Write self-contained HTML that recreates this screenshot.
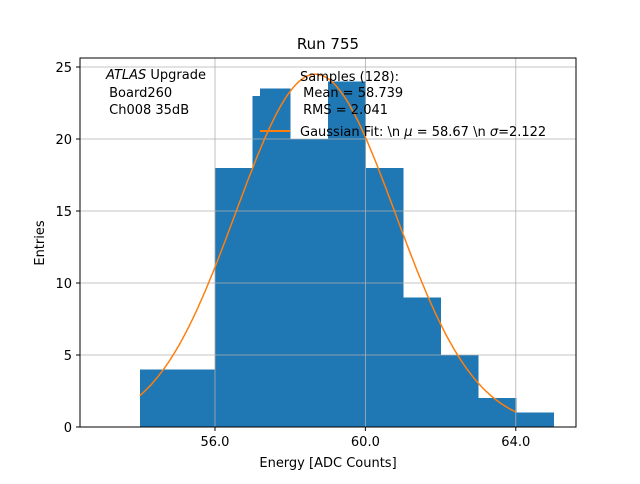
<!DOCTYPE html>
<html><head><meta charset="utf-8"><style>
body{margin:0;background:#fff;font-family:"DejaVu Sans","Liberation Sans",sans-serif;}
</style></head><body>
<svg id="c" width="640" height="480" xmlns="http://www.w3.org/2000/svg" font-family="DejaVu Sans, Liberation Sans, sans-serif">
<rect width="640" height="480" fill="#fff"/>
<g id="bars" shape-rendering="crispEdges"></g>
<g id="grid"></g>
<g id="fit"></g>
<rect x="80" y="58" width="496" height="369" fill="none" stroke="#000" stroke-width="1"/>
<g id="ticks" font-size="13"></g>
<text x="328" y="49" text-anchor="middle" font-size="15">Run 755</text>
<text x="328" y="467" text-anchor="middle" font-size="13">Energy [ADC Counts]</text>
<text transform="translate(44,243) rotate(-90)" text-anchor="middle" font-size="13">Entries</text>
<g font-size="13">
<text x="106" y="79"><tspan font-style="italic">ATLAS</tspan> Upgrade</text>
<text x="105" y="97" xml:space="preserve"> Board260</text>
<text x="105" y="114" xml:space="preserve"> Ch008 35dB</text>
</g>
<g font-size="13">
<text x="300" y="81">Samples (128):</text>
<text x="299" y="97" xml:space="preserve"> Mean = 58.739</text>
<text x="299" y="114" xml:space="preserve"> RMS = 2.041</text>
<line x1="260" y1="131" x2="290" y2="131" stroke="#ff7f0e" stroke-width="2"/>
<text x="300" y="136">Gaussian Fit: \n <tspan font-style="italic">μ</tspan> = 58.67 \n <tspan font-style="italic">σ</tspan>=2.122</text>
</g>
</svg>
<script>
const binLo=[54,56,57,57.2,58,59,60,61,62,63,64];
const binHi=[56,57,58,58,59,60,61,62,63,64,65];
const counts=[4,18,23,23.5,20,24,18,9,5,2,1];
const xTicks=[56,60,64];
const xTickLabels=["56.0","60.0","64.0"];
const yTicks=[0,5,10,15,20,25];
const fitMu=58.67, fitSigma=2.122, fitAmp=24.5, fitMin=54, fitMax=64;
const NS="http://www.w3.org/2000/svg";
const X=v=>80+(v-52.41)*37.6;
const Y=v=>427-v*14.4;
function mk(tag,attrs,parent){const e=document.createElementNS(NS,tag);for(const k in attrs)e.setAttribute(k,attrs[k]);document.getElementById(parent).appendChild(e);return e;}
xTicks.forEach((t,i)=>{
 const g=mk('line',{x1:X(t),x2:X(t),y1:58,y2:427,stroke:'#b0b0b0','stroke-width':0.8},'grid');
 
 
 mk('line',{x1:X(t),x2:X(t),y1:427,y2:431,stroke:'#000'},'ticks');
 const tx=mk('text',{x:X(t),y:446,'text-anchor':'middle'},'ticks');tx.textContent=xTickLabels[i];
 
 
});
yTicks.forEach(t=>{
 const g=mk('line',{x1:80,x2:576,y1:Y(t),y2:Y(t),stroke:'#b0b0b0','stroke-width':0.8},'grid');
 
 
 mk('line',{x1:76,x2:80,y1:Y(t),y2:Y(t),stroke:'#000'},'ticks');
 const tx=mk('text',{x:72,y:Y(t)+5,'text-anchor':'end'},'ticks');tx.textContent=t;
 
 
});
counts.forEach((c,i)=>{
 const r=mk('rect',{x:X(binLo[i]),y:Y(c),width:X(binHi[i])-X(binLo[i])+0.5,height:Y(0)-Y(c),fill:'#1f77b4'},'bars');
 
 
});
let d='';
for(let k=0;k<=200;k++){const v=fitMin+(fitMax-fitMin)*k/200;const y=fitAmp*Math.exp(-((v-fitMu)**2)/(2*fitSigma*fitSigma));d+=(k?'L':'M')+X(v).toFixed(1)+','+Y(y).toFixed(1);}
const p=mk('path',{d:d,fill:'none',stroke:'#ff7f0e','stroke-width':1.5},'fit');


</script>
</body></html>
